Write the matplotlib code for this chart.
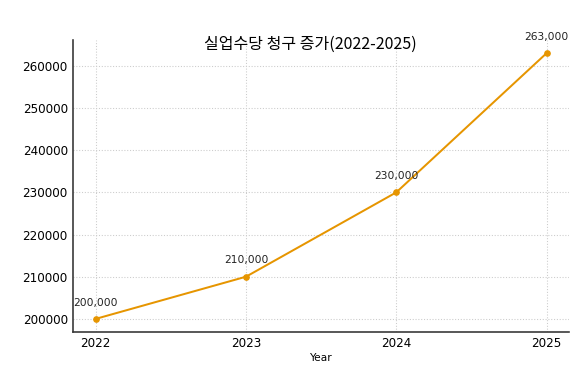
import matplotlib
matplotlib.use("Agg")
import matplotlib.pyplot as plt

years = [2022, 2023, 2024, 2025]
claims = [200000, 210000, 230000, 263000]
labels = ["200,000", "210,000", "230,000", "263,000"]

plt.rcParams['font.family'] = ['DejaVu Sans']
fig = plt.figure(figsize=(6, 4), dpi=96)
ax = fig.add_axes([0.127, 0.135, 0.861, 0.761])
color = '#e69500'
ax.plot(years, claims, color=color, linewidth=1.5, marker='o', markersize=4)
for x, y, t in zip(years, claims, labels):
    ax.annotate(t, (x, y), textcoords='offset points', xytext=(0, 10), ha='center', fontsize=8, color='#222222')
ax.set_xticks(years)
ax.set_xticklabels([str(y) for y in years])
ax.set_xlabel('Year', fontsize=8, labelpad=2)
ax.tick_params(length=0, labelsize=9, pad=4)
ax.grid(True, linestyle=':', color='#cccccc', linewidth=0.8)
for s in ['top', 'right']:
    ax.spines[s].set_visible(False)
for s in ['left', 'bottom']:
    ax.spines[s].set_color('#333333')
    ax.spines[s].set_linewidth(1.2)
ax.ticklabel_format(style='plain', axis='y', useOffset=False)
fig.text(0.539, 1 - 44 / 384, '실업수당 청구 증가(2022-2025)', fontsize=12, weight='medium',
         family=['Noto Sans CJK KR', 'DejaVu Sans'], ha='center', va='center')
fig.savefig('out.png', dpi=96)
